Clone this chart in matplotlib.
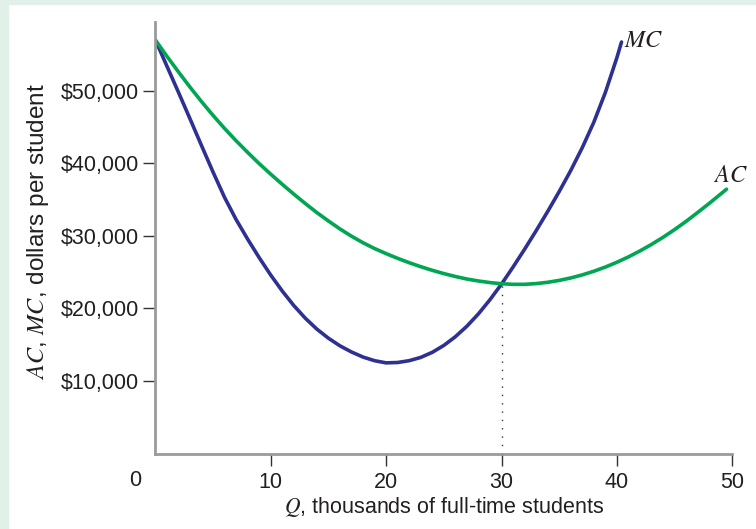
import matplotlib
matplotlib.use("Agg")
import matplotlib.pyplot as plt
from matplotlib.patches import Rectangle

plt.rcParams['font.family'] = ['Liberation Sans', 'DejaVu Sans']
plt.rcParams['mathtext.fontset'] = 'stix'

# values (Q in thousands, dollars per student)
q_mc = [0, 1, 2, 3, 4, 5, 6, 7, 8, 9, 10, 11, 12, 13, 14, 15, 16, 17, 18, 19, 20,
        21, 22, 23, 24, 25, 26, 27, 28, 29, 30, 31, 32, 33, 34, 35, 36, 37, 38, 39, 40, 40.4]
mc = [57000, 53400, 49800, 46150, 42450, 38800, 35300, 32250, 29550, 27000, 24600, 22400, 20400, 18650, 17150,
      15900, 14850, 14000, 13300, 12800, 12500,
      12550, 12800, 13250, 13950, 14900, 16100, 17550, 19250, 21200, 23350, 25700, 28150, 30700, 33350, 36100,
      39000, 42150, 45650, 49750, 54550, 56700]

q_ac = [0, 1, 2, 3, 4, 5, 6, 7, 8, 9, 10, 11, 12, 13, 14, 15, 16, 17, 18, 19, 20, 21, 22, 23, 24,
        25, 26, 27, 28, 29, 30, 31, 32, 33, 34, 35, 36, 37, 38, 39, 40, 41, 42, 43, 44, 45, 46, 47, 48, 49, 49.5]
ac = [57000, 54750, 52600, 50500, 48500, 46600, 44800, 43100, 41500, 39950, 38500, 37100, 35750, 34450, 33200,
      32050, 30950, 29950, 29050, 28250, 27550, 26900, 26300, 25750, 25250, 24800, 24400, 24050, 23780, 23560,
      23400, 23320, 23320, 23420, 23600, 23860, 24200, 24620, 25120, 25700, 26360, 27100, 27920, 28820, 29800,
      30860, 32000, 33220, 34470, 35770, 36420]

x_ticks = [10, 20, 30, 40, 50]
y_ticks = [10000, 20000, 30000, 40000, 50000]
y_labels = ['$10,000', '$20,000', '$30,000', '$40,000', '$50,000']
q_star = 30
c_star = 23350

txt = '#231f20'
fig = plt.figure(figsize=(7.56, 5.29), dpi=100)
fig.patches.append(Rectangle((0, 0), 8 / 756, 1, transform=fig.transFigure, color='#e1f0e8', zorder=0))
fig.patches.append(Rectangle((0, 1 - 4 / 529), 1, 4 / 529, transform=fig.transFigure, color='#e1f0e8', zorder=0))

ax = fig.add_axes([155.3 / 756, 1 - 453.6 / 529, 577 / 756, (453.6 - 21.7) / 529])
ax.set_facecolor('none')

ax.plot(q_mc, mc, color='#2e3192', lw=2.6, solid_capstyle='round', solid_joinstyle='round')
ax.plot(q_ac, ac, color='#00a651', lw=2.6, solid_capstyle='round', solid_joinstyle='round')
ax.plot([q_star, q_star], [0, c_star], color='#333333', lw=1.0, linestyle=(0, (1, 5)))

ax.text(40.6, 56800, '$MC$', fontsize=17.5, color=txt, ha='left', va='center')
ax.text(49.8, 38200, '$AC$', fontsize=17.5, color=txt, ha='center', va='center')

ax.set_xlim(0, 50)
ax.set_ylim(0, 59500)
ax.set_xticks(x_ticks)
ax.set_xticklabels([str(v) for v in x_ticks], fontsize=15.5, color=txt)
ax.set_yticks(y_ticks)
ax.set_yticklabels(y_labels, fontsize=15.5, color=txt)
ax.tick_params(direction='out', length=8.6, width=1, color='#333333', pad=3)
ax.tick_params(axis='x', pad=5)
ax.annotate('0', xy=(0, 0), xytext=(-14.5, -19.7), textcoords='offset points',
            ha='center', va='center', fontsize=15.5, color=txt)

for s in ['top', 'right']:
    ax.spines[s].set_visible(False)
for s in ['left', 'bottom']:
    ax.spines[s].set_color('#9a9a9a')
    ax.spines[s].set_linewidth(2)

fig.text(444 / 756, 1 - 506.7 / 529, '$Q$, thousands of full-time students', fontsize=15.5, color=txt,
         ha='center', va='center')
fig.text(38 / 756, 1 - 232 / 529, '$AC$, $MC$, dollars per student', fontsize=17.5, color=txt,
         ha='center', va='center', rotation=90)

fig.savefig('out.png', dpi=100)
